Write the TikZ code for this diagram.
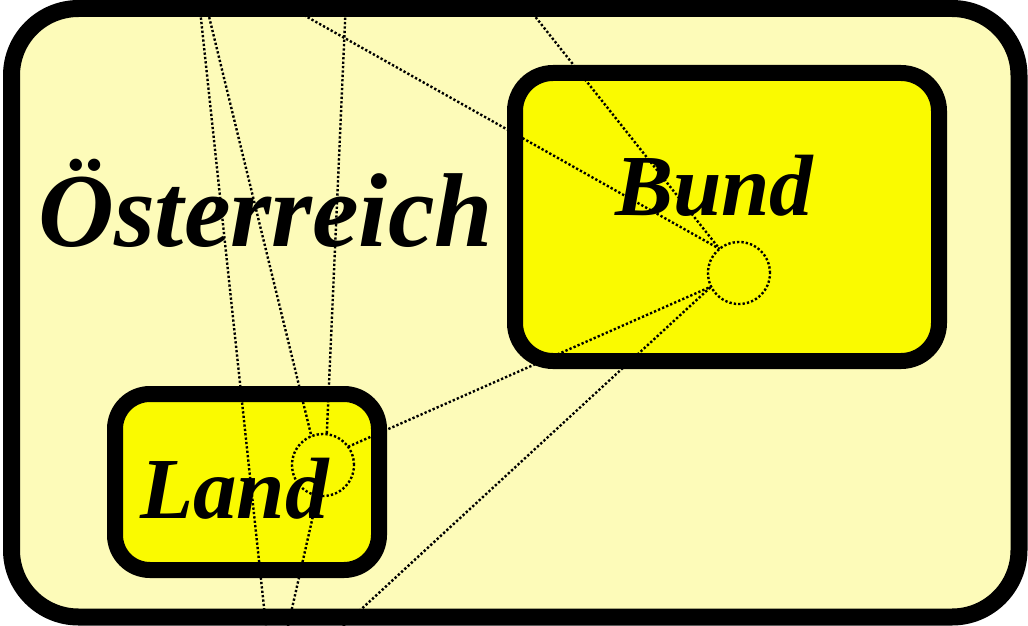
\documentclass[tikz,border=0pt]{standalone}
\usepackage{fontspec}
\setmainfont{Liberation Serif}

\definecolor{paleyellow}{RGB}{253,251,185}
\definecolor{boxyellow}{RGB}{250,250,0}

\begin{document}
\begin{tikzpicture}[x=1pt, y=-1pt,
  box/.style={rectangle, draw=black, fill=boxyellow, line width=16pt, rounded corners=38pt, inner sep=0pt, outer sep=0pt},
  port/.style={circle, draw=black, line width=2.4pt, dash pattern=on 2.3pt off 2.1pt, minimum size=62pt, inner sep=0pt, outer sep=0pt},
  link/.style={draw=black, line width=2.4pt, dash pattern=on 2.3pt off 2.1pt},
  title/.style={font=\fontsize{105}{110}\selectfont\bfseries\itshape, anchor=base west, inner sep=0pt},
  label/.style={font=\fontsize{87}{90}\selectfont\bfseries\itshape, anchor=base west, inner sep=0pt}]
  \useasboundingbox (0,0) rectangle (1028,626);

  \node[rectangle, draw=black, fill=paleyellow, line width=17pt, rounded corners=67pt, inner sep=0pt, outer sep=0pt, minimum width=1007.5pt, minimum height=608.5pt] (aut) at (515.25,312.75) {};
  \node[box, minimum width=424pt, minimum height=288pt] (bund) at (727,217) {};
  \node[box, minimum width=264pt, minimum height=176pt, rounded corners=35pt] (land) at (247,482) {};

  \node[port] (bundc) at (739,273) {};
  \node[port] (landc) at (323,465) {};

  \coordinate (topa) at (199,0);
  \coordinate (topb) at (205,0);
  \coordinate (topc) at (346,0);
  \coordinate (topd) at (277,0);
  \coordinate (tope) at (522,0);
  \coordinate (bota) at (266,626);
  \coordinate (botb) at (288,626);
  \coordinate (botc) at (343,626);

  \draw[link] (topa) -- (bota);
  \draw[link] (topb) -- (landc.112);
  \draw[link] (topc) -- (landc.83);
  \draw[link] (landc.260) -- (botb);
  \draw[link] (landc.36) -- (bundc.206);
  \draw[link] (botc) -- (bundc.206);
  \draw[link] (topd) -- (bundc.129);
  \draw[link] (tope) -- (bundc.129);

  \node[title] (auttext) at (38,246) {Österreich};
  \node[label] (bundtext) at (615,215) {Bund};
  \node[label] (landtext) at (140,518) {Land};

\end{tikzpicture}
\end{document}
